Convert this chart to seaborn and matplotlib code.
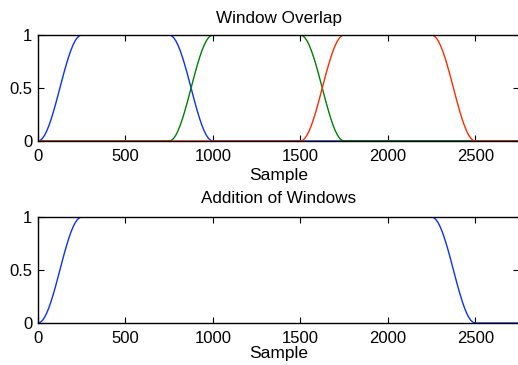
import pandas as pd
import matplotlib
matplotlib.use("Agg")
import matplotlib.pyplot as plt
import seaborn as sns

# one rising edge of a window (offset in samples, height)
edge_x = [0, 12.5, 25, 37.5, 50, 62.5, 75, 87.5, 100, 112.5, 125,
          137.5, 150, 162.5, 175, 187.5, 200, 212.5, 225, 237.5, 250]
edge_y = [0, 0.006, 0.024, 0.054, 0.095, 0.146, 0.206, 0.273, 0.345, 0.422, 0.5,
          0.578, 0.655, 0.727, 0.794, 0.854, 0.905, 0.946, 0.976, 0.994, 1]

# where each window starts rising / falling
rise_starts = [0, 750, 1500]
fall_starts = [750, 1500, 2250]
sum_rise = 0
sum_fall = 2250
x_end = 2750

colors = ["#0a30ff", "#008000", "#ff2a00"]


def window(rise, fall):
    xs = [0] + [rise + e for e in edge_x] + [fall + e for e in edge_x] + [x_end]
    ys = [0] + edge_y + edge_y[::-1] + [0]
    return pd.DataFrame({"sample": xs, "value": ys})


sns.set_style("ticks")
plt.rcParams["font.family"] = ["Liberation Sans", "DejaVu Sans"]
plt.rcParams["text.color"] = "black"
plt.rcParams["axes.labelcolor"] = "black"

fig = plt.figure(figsize=(5.18, 3.65), dpi=100)
ax1 = fig.add_axes([0.0734, 0.6137, 0.9286, 0.2904])
ax2 = fig.add_axes([0.0734, 0.115, 0.9286, 0.2904])

for r, f, c in zip(rise_starts, fall_starts, colors):
    sns.lineplot(data=window(r, f), x="sample", y="value", color=c,
                 estimator=None, sort=False, lw=1, ax=ax1)

sns.lineplot(data=window(sum_rise, sum_fall), x="sample", y="value",
             color=colors[0], estimator=None, sort=False, lw=1, ax=ax2)

for ax, title in [(ax1, "Window Overlap"), (ax2, "Addition of Windows")]:
    ax.set_xlim(0, x_end)
    ax.set_ylim(0, 1)
    ax.set_xticks([0, 500, 1000, 1500, 2000, 2500])
    ax.set_yticks([0, 0.5, 1])
    ax.set_yticklabels(["0", "0.5", "1"])
    ax.tick_params(direction="in", top=True, right=True, length=4, width=0.8,
                   labelsize=12, pad=4, colors="black")
    ax.tick_params(axis="x", pad=6)
    for s in ax.spines.values():
        s.set_visible(True)
        s.set_linewidth(1)
        s.set_color("black")
    ax.set_xlabel("Sample", fontsize=12.5)
    ax.set_ylabel("")

ax1.set_title("Window Overlap", fontsize=12.3, pad=8.5)
ax2.set_title("Addition of Windows", fontsize=12.3, pad=10)
ax1.xaxis.labelpad = 3
ax2.xaxis.labelpad = 0

fig.savefig("out.png", dpi=100)
